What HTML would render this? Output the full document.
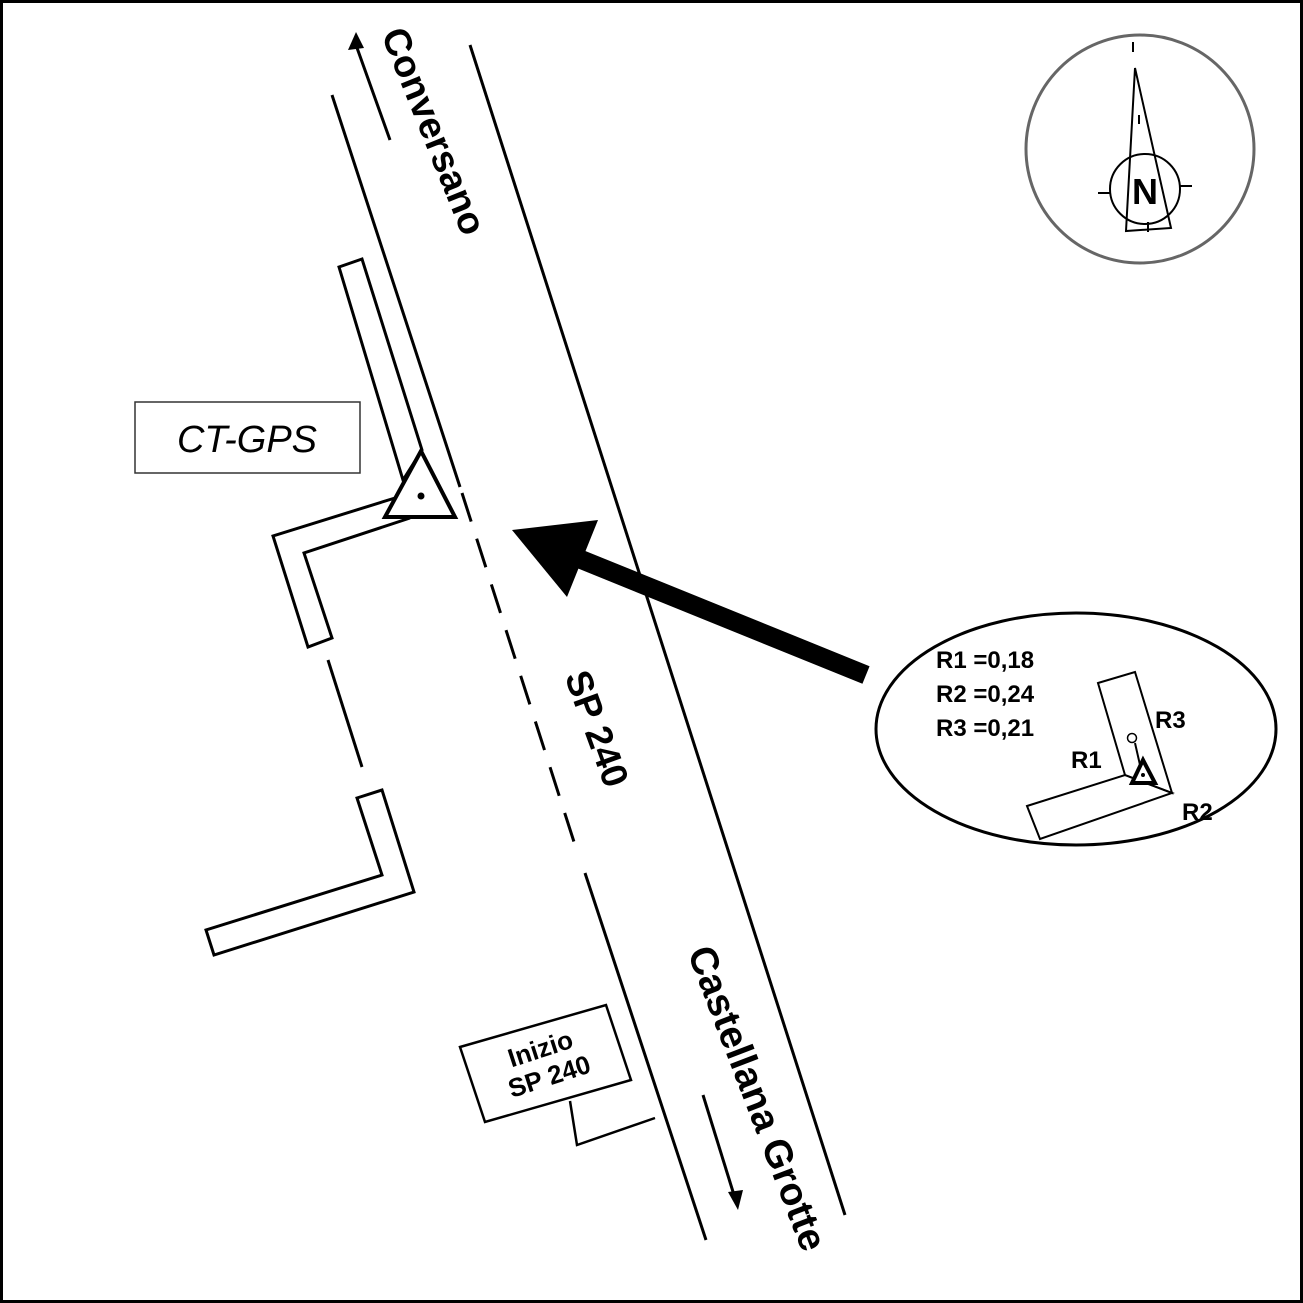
<!DOCTYPE html>
<html><head><meta charset="utf-8"><style>
html,body{margin:0;padding:0;background:#fff}
svg{display:block}
text{font-family:"Liberation Sans",Arial,sans-serif}
</style></head><body>
<svg width="1303" height="1303" viewBox="0 0 1303 1303" xmlns="http://www.w3.org/2000/svg">
<rect x="1.5" y="1.5" width="1300" height="1300" fill="#fff" stroke="#000" stroke-width="3"/>
<g stroke="#000" stroke-width="3" fill="none">
<line x1="470" y1="45" x2="845" y2="1215"/>
<line x1="332" y1="95" x2="460" y2="487"/>
<line x1="462" y1="493" x2="575" y2="845" stroke-dasharray="30,18"/>
<line x1="585" y1="873" x2="706" y2="1240"/>
<line x1="390" y1="140" x2="356" y2="45"/>
<line x1="703" y1="1095" x2="734" y2="1195"/>
<polygon points="339,267 362,259 422,450 403,480"/>
<polyline points="395,498 273,536 308,647 332,638 304,553 410,518"/>
<line x1="328" y1="660" x2="362" y2="767"/>
<polygon points="357,798 382,790 414,892 214,955 206,930 382,875"/>
<polygon points="421,451 385,517 455,517" stroke-width="4" fill="#fff"/>
<rect x="135" y="402" width="225" height="71" stroke-width="1.5" stroke="#333"/>
<polygon points="460,1047 606,1005 631,1080 485,1122" stroke-width="2.5"/>
<polyline points="570,1101 577,1145 655,1118" stroke-width="2.5"/>
<ellipse cx="1076" cy="729" rx="200" ry="116" stroke-width="3"/>
<polygon points="1098,683 1135,672 1172,793 1125,775" stroke-width="2"/>
<polygon points="1027,806 1125,775 1172,793 1040,839" stroke-width="2"/>
<line x1="1135" y1="743" x2="1140" y2="765" stroke-width="2"/>
<polygon points="1143,760 1132,783 1155,783" stroke-width="4" fill="#fff"/>
<circle cx="1140" cy="149" r="114" stroke="#666" stroke-width="3"/>
<polygon points="1135,68 1126,231 1171,228" stroke-width="2"/>
<circle cx="1145" cy="189" r="35" stroke-width="2"/>
<line x1="1098" y1="193" x2="1110" y2="193" stroke-width="2"/>
<line x1="1180" y1="186" x2="1192" y2="186" stroke-width="2"/>
<line x1="1133" y1="42" x2="1133" y2="52" stroke-width="2"/>
<line x1="1139" y1="115" x2="1139" y2="124" stroke-width="2"/>
<line x1="1148" y1="222" x2="1148" y2="232" stroke-width="2"/>
</g>
<circle cx="421" cy="496" r="3.5" fill="#000"/>
<circle cx="1143" cy="775" r="2" fill="#000"/>
<circle cx="1132" cy="738" r="4.5" fill="#fff" stroke="#000" stroke-width="1.5"/>
<polygon points="356,32 348,50 364,48" fill="#000"/>
<polygon points="738,1210 728,1192 743,1190" fill="#000"/>
<line x1="866" y1="675" x2="570" y2="555" stroke="#000" stroke-width="19"/>
<polygon points="512,530 567,597 598,520" fill="#000"/>
<text x="0" y="0" font-size="38" font-weight="bold" text-anchor="middle" transform="translate(422,136) rotate(68)">Conversano</text>
<text x="0" y="0" font-size="37" font-weight="bold" text-anchor="middle" transform="translate(585,733) rotate(70)">SP 240</text>
<text x="0" y="0" font-size="39" font-weight="bold" text-anchor="middle" transform="translate(745,1103) rotate(69)">Castellana Grotte</text>
<text x="247" y="452" font-size="38" font-style="italic" text-anchor="middle">CT-GPS</text>
<g transform="rotate(-18 545 1063)" font-size="26" font-weight="bold" text-anchor="middle">
<text x="545" y="1057">Inizio</text>
<text x="545" y="1086">SP 240</text>
</g>
<g font-size="24" font-weight="bold">
<text x="936" y="668">R1 =0,18</text>
<text x="936" y="702">R2 =0,24</text>
<text x="936" y="736">R3 =0,21</text>
<text x="1155" y="728">R3</text>
<text x="1071" y="768">R1</text>
<text x="1182" y="820">R2</text>
</g>
<text x="1145" y="204" font-size="36" font-weight="bold" text-anchor="middle">N</text>
</svg>
</body></html>
